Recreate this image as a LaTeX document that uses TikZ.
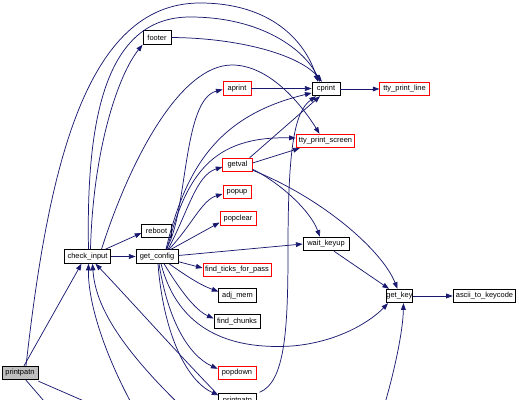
\documentclass[tikz,border=0pt]{standalone}
\usepackage{fontspec}
\setmainfont{Liberation Sans}
\usetikzlibrary{arrows.meta,calc}
\definecolor{edgec}{HTML}{191970}
\definecolor{redb}{HTML}{FF0000}
\definecolor{grayf}{HTML}{BFBFBF}
\tikzset{
  box/.style={draw=black, line width=0.6pt, fill=white, inner sep=0pt, minimum height=10.2pt, font=\fontsize{5.6}{6}\selectfont, text=black},
  rbox/.style={box, draw=redb},
  gbox/.style={box, fill=grayf},
  e/.style={draw=edgec, line width=0.55pt, -{Triangle[length=5pt,width=3.6pt]}},
  ne/.style={draw=edgec, line width=0.55pt}
}
\begin{document}
\begin{tikzpicture}[x=0.75pt,y=-0.75pt]
\useasboundingbox (0,0) rectangle (519,400);
\fill[white] (0,0) rectangle (519,400);
\clip (0,0) rectangle (519,400);
% nodes
\node[gbox, minimum width=27pt] (pA) at (20,373) {printpatn};
\node[box, minimum width=35pt] (ci) at (87.5,256.5) {check\_input};
\node[box, minimum width=22pt] (rb) at (156.5,231) {reboot};
\node[box, minimum width=31.5pt] (gc) at (157,256.5) {get\_config};
\node[box, minimum width=21pt] (ft) at (157,37.5) {footer};
\node[rbox, minimum width=21pt] (ap) at (237,88.5) {aprint};
\node[rbox, minimum width=22pt] (gv) at (237.5,165) {getval};
\node[rbox, minimum width=21pt] (pu) at (237,192) {popup};
\node[rbox, minimum width=27pt] (pc) at (238,218.5) {popclear};
\node[rbox, minimum width=51pt] (fk) at (237,270) {find\_ticks\_for\_pass};
\node[box, minimum width=28pt] (am) at (237.5,295.5) {adj\_mem};
\node[box, minimum width=34.5pt] (fc) at (237,321.5) {find\_chunks};
\node[rbox, minimum width=28.5pt] (pd) at (237,373) {popdown};
\node[box, minimum width=28pt] (pB) at (237.5,400.5) {printpatn};
\node[box, minimum width=21pt] (cp) at (326,89) {cprint};
\node[rbox, minimum width=37pt] (tl) at (404.5,89) {tty\_print\_line};
\node[rbox, minimum width=44pt] (ts) at (325.5,141) {tty\_print\_screen};
\node[box, minimum width=34.5pt] (wk) at (326,244) {wait\_keyup};
\node[box, minimum width=19pt] (gk) at (399.5,296) {get\_key};
\node[box, minimum width=47pt] (ak) at (484.5,296) {ascii\_to\_keycode};
% off-canvas points
\coordinate (o1) at (50,408);
\coordinate (o2) at (100,408);
\coordinate (o3) at (135,410);
\coordinate (o4) at (185,410);
\coordinate (o5) at (383,410);
% edges from printpatn
\draw[e] ($(pA.north)+(4,0)$) -- ($(ci.south)+(-6,0)$);
\draw[e] ($(pA.north)+(6,0)$) .. controls (48,170) and (85,3) .. (200,3) .. controls (270,3) and (305,40) .. ($(cp.north)+(-8,0)$);
\draw[ne] ($(pA.south)+(6,0)$) -- (o1);
\draw[ne] ($(pA.south east)+(0,1)$) -- (o2);
% edges from check_input
\draw[e] ($(ci.north)+(1,0)$) .. controls (86,120) and (105,17) .. (190,17) .. controls (262,17) and (305,50) .. ($(cp.north)+(-6,0)$);
\draw[e] ($(ci.north)+(3,0)$) .. controls (93,150) and (118,75) .. (ft.south west);
\draw[e] ($(ci.north)+(14,0)$) .. controls (130,160) and (180,65) .. (232,65) .. controls (272,65) and (305,110) .. ($(ts.north)+(-6,0)$);
\draw[e] ($(ci.north east)+(-6,0)$) -- ($(rb.west)+(0,2)$);
\draw[e] (ci.east) -- (gc.west);
% edges into check_input from below
\draw[e] (o3) .. controls (102,350) and (88,300) .. ($(ci.south)+(1,0)$);
\draw[e] (o4) .. controls (112,340) and (95,300) .. ($(ci.south)+(5,0)$);
\draw[e] ($(pB.north west)+(-2,0)$) .. controls (170,345) and (130,300) .. ($(ci.south)+(8,0)$);
% footer
\draw[e] (ft.east) .. controls (240,38) and (300,55) .. ($(cp.north)+(-4,0)$);
% get_config fan
\draw[e] ($(gc.north)+(9,0)$) .. controls (188,215) and (182,100) .. ($(ap.west)+(0,1)$);
\draw[e] ($(gc.north)+(9,0)$) .. controls (186,165) and (220,115) .. ($(cp.west)+(0,4)$);
\draw[e] ($(gc.north)+(10,0)$) .. controls (186,175) and (212,136) .. ($(ts.west)+(0,-3)$);
\draw[e] ($(gc.north)+(11,0)$) .. controls (188,212) and (196,175) .. ($(gv.west)+(0,2)$);
\draw[e] ($(gc.north)+(12,0)$) .. controls (192,225) and (202,200) .. ($(pu.west)+(0,2)$);
\draw[e] ($(gc.north)+(14,0)$) -- ($(pc.west)+(0,4)$);
\draw[e] ($(gc.east)+(0,-1)$) -- ($(wk.west)+(0,0)$);
\draw[e] ($(gc.south east)+(0,-2)$) -- ($(fk.west)+(0,-2)$);
\draw[e] ($(gc.south)+(12,0)$) .. controls (185,275) and (200,285) .. ($(am.west)+(0,-4)$);
\draw[e] ($(gc.south)+(7,0)$) .. controls (180,290) and (195,310) .. ($(fc.west)+(0,-3)$);
\draw[e] ($(gc.south)+(4,0)$) .. controls (178,330) and (230,350) .. (292,346) .. controls (340,342) and (372,320) .. ($(gk.south west)+(2,0)$);
\draw[e] ($(gc.south)+(2,0)$) .. controls (168,320) and (188,355) .. ($(pd.north west)+(0,3)$);
\draw[e] ($(gc.south)+(1,0)$) .. controls (163,330) and (185,380) .. ($(pB.north west)+(0,2)$);
% others
\draw[e] (ap.east) -- ($(cp.west)+(0,-0.5)$);
\draw[e] (cp.east) -- (tl.west);
\draw[e] ($(gv.north east)+(-3,0)$) -- ($(cp.south)+(-6,0)$);
\draw[e] ($(gv.east)+(0,-2)$) -- ($(ts.south west)+(4,0)$);
\draw[e] ($(gv.south east)+(0,-3)$) .. controls (280,183) and (310,210) .. ($(wk.north)+(-6,0)$);
\draw[e] ($(gv.south east)+(0,-2)$) .. controls (322,198) and (382,250) .. ($(gk.north)+(-2,0)$);
\draw[e] ($(wk.south)+(8,0)$) -- ($(gk.north west)+(3,0)$);
\draw[e] (gk.east) -- (ak.west);
\draw[e] ($(pB.north east)+(3,-1)$) .. controls (285,382) and (288,330) .. (288,250) .. controls (288,150) and (294,112) .. ($(cp.south)+(-10,0)$);
\draw[e] (o5) .. controls (395,370) and (403,330) .. ($(gk.south)+(4,0)$);
\end{tikzpicture}
\end{document}
